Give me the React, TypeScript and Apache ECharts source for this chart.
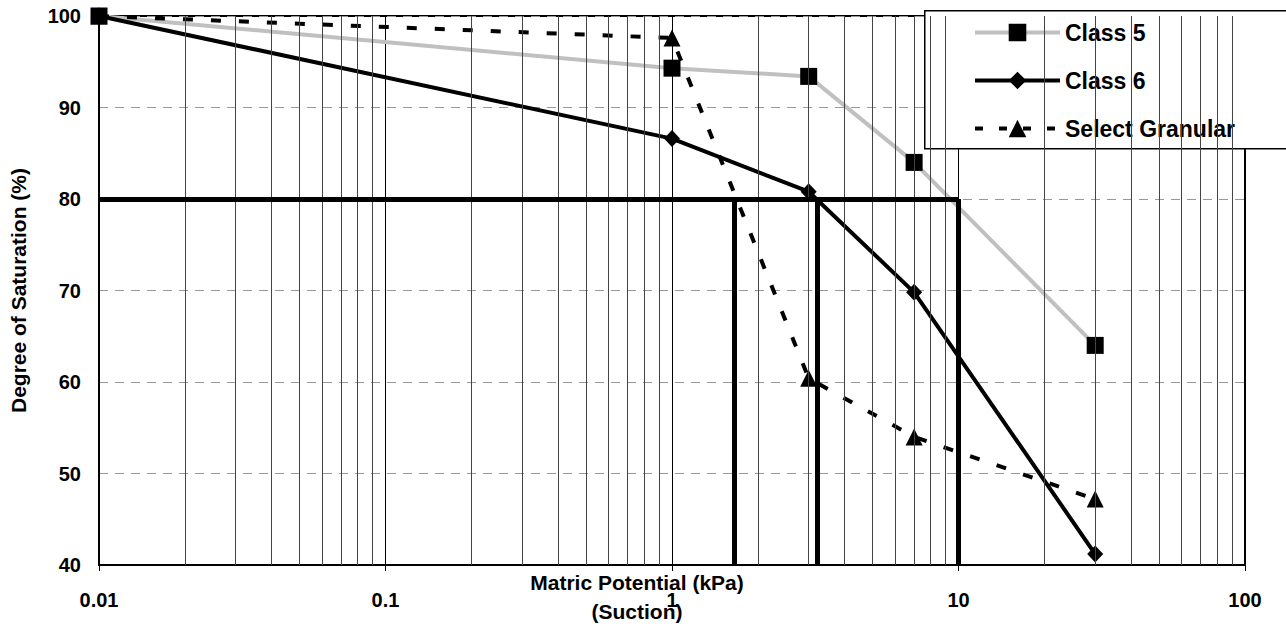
import React, { useEffect, useRef } from "react";
import * as echarts from "echarts";

// ---- data ----
const suction = [0.01, 1, 3, 7, 30];
const class5 = [100, 94.3, 93.4, 84.0, 64.0];
const class6 = [100, 86.6, 80.8, 69.8, 41.2];
const selectGranular = [100, 97.6, 60.4, 54.0, 47.2];
const seriesNames = ["Class 5", "Class 6", "Select Granular"];
const xTickLabels = ["0.01", "0.1", "1", "10", "100"];
const yTickLabels = ["40", "50", "60", "70", "80", "90", "100"];
const targetSaturation = 80;
const targetLineStart = 0.01;
const targetLineEnd = 10;
const dropLines = [1.65, 3.22, 10];
const yMin = 40;
const minorMultipliers = [2, 3, 4, 5, 6, 7, 8, 9];
const decades = [0.01, 0.1, 1, 10];

const FONT = '"Liberation Sans", Arial, sans-serif';

export default function App() {
  const ref = useRef<HTMLDivElement>(null);

  useEffect(() => {
    if (!ref.current) return;
    const chart = echarts.init(ref.current, null, { renderer: "svg" });

    const minorLines: number[] = [];
    decades.forEach((d) => minorMultipliers.forEach((m) => minorLines.push(+(d * m).toPrecision(6))));

    const pairs = (ys: number[]) => suction.map((x, i) => [x, ys[i]]);

    const option: any = {
      animation: false,
      backgroundColor: "#fff",
      textStyle: { fontFamily: FONT },
      grid: {
        left: 99,
        right: 41,
        top: 16,
        bottom: 61,
        show: true,
        borderColor: "#000",
        borderWidth: 2,
        backgroundColor: "transparent",
      },
      xAxis: {
        type: "log",
        logBase: 10,
        min: 0.01,
        max: 100,
        axisLine: { show: true, lineStyle: { color: "#000", width: 2 } },
        axisTick: { show: true, length: 6, lineStyle: { color: "#000", width: 1 } },
        axisLabel: {
          fontSize: 20,
          fontWeight: "bold",
          color: "#000",
          fontFamily: FONT,
          margin: 25,
          formatter: (_v: number, i: number) => xTickLabels[i] ?? "",
        },
        splitLine: { show: true, lineStyle: { color: "#000", width: 1 } },
      },
      yAxis: {
        type: "value",
        min: 40,
        max: 100,
        interval: 10,
        name: "Degree of Saturation (%)",
        nameLocation: "middle",
        nameGap: 70,
        nameRotate: 90,
        nameTextStyle: { fontSize: 21, fontWeight: "bold", color: "#000", fontFamily: FONT },
        axisLine: { show: true, lineStyle: { color: "#000", width: 2 } },
        axisTick: { show: false },
        axisLabel: {
          fontSize: 20,
          fontWeight: "bold",
          color: "#000",
          fontFamily: FONT,
          margin: 18,
          formatter: (_v: number, i: number) => yTickLabels[i] ?? "",
        },
        splitLine: { show: true, lineStyle: { color: "#999", width: 1, type: [9, 7] } },
      },
      legend: {
        data: [
          { name: seriesNames[0], lineStyle: { width: 4, color: "#C0C0C0" } },
          { name: seriesNames[1], lineStyle: { width: 4, color: "#000" } },
          { name: seriesNames[2], lineStyle: { width: 4, color: "#000", type: [8, 16] } },
        ],
        orient: "vertical",
        left: 968,
        top: 16,
        itemWidth: 85,
        itemHeight: 22,
        itemGap: 25,
        z: 5,
        textStyle: { fontSize: 23, fontWeight: "bold", color: "#000", fontFamily: FONT },
      },
      graphic: [
        {
          type: "rect",
          left: 924,
          top: 10,
          z: 3,
          shape: { width: 420, height: 138 },
          style: { fill: "#fff", stroke: "#000", lineWidth: 1.5 },
          silent: true,
        },
        {
          type: "text",
          x: 637,
          y: 582,
          style: {
            text: "Matric Potential (kPa)",
            font: `bold 21px ${FONT}`,
            fill: "#000",
            align: "center",
            verticalAlign: "middle",
            textAlign: "center",
            textVerticalAlign: "middle",
          },
        },
        {
          type: "text",
          x: 637,
          y: 611,
          style: {
            text: "(Suction)",
            font: `bold 21px ${FONT}`,
            fill: "#000",
            align: "center",
            verticalAlign: "middle",
            textAlign: "center",
            textVerticalAlign: "middle",
          },
        },
      ],
      series: [
        {
          name: "minorGrid",
          type: "line",
          data: [],
          silent: true,
          z: 1,
          markLine: {
            silent: true,
            symbol: ["none", "none"],
            label: { show: false },
            lineStyle: { color: "#444", width: 1, type: "solid" },
            data: minorLines.map((v) => ({ xAxis: v })),
          },
        },
        {
          name: "targetLines",
          type: "line",
          data: [],
          silent: true,
          z: 2,
          markLine: {
            silent: true,
            symbol: ["none", "none"],
            label: { show: false },
            lineStyle: { color: "#000", width: 5, type: "solid" },
            data: [
              [{ coord: [targetLineStart, targetSaturation] }, { coord: [targetLineEnd, targetSaturation] }],
              ...dropLines.map((x) => [{ coord: [x, targetSaturation] }, { coord: [x, yMin] }]),
            ],
          },
        },
        {
          name: seriesNames[0],
          type: "line",
          data: pairs(class5),
          clip: false,
          symbol: "rect",
          symbolSize: 17,
          lineStyle: { color: "#C0C0C0", width: 4 },
          itemStyle: { color: "#000" },
          z: 3,
        },
        {
          name: seriesNames[1],
          type: "line",
          data: pairs(class6),
          clip: false,
          symbol: "diamond",
          symbolSize: [16, 17],
          lineStyle: { color: "#000", width: 4 },
          itemStyle: { color: "#000" },
          z: 3,
        },
        {
          name: seriesNames[2],
          type: "line",
          data: pairs(selectGranular),
          clip: false,
          symbol: "triangle",
          symbolSize: 17,
          lineStyle: { color: "#000", width: 4, type: [10, 18] },
          itemStyle: { color: "#000" },
          z: 3,
        },
      ],
    };

    chart.setOption(option);
    return () => chart.dispose();
  }, []);

  return (
    <div
      ref={ref}
      style={{ position: "absolute", left: 0, top: 0, width: 1286, height: 626 }}
    />
  );
}
